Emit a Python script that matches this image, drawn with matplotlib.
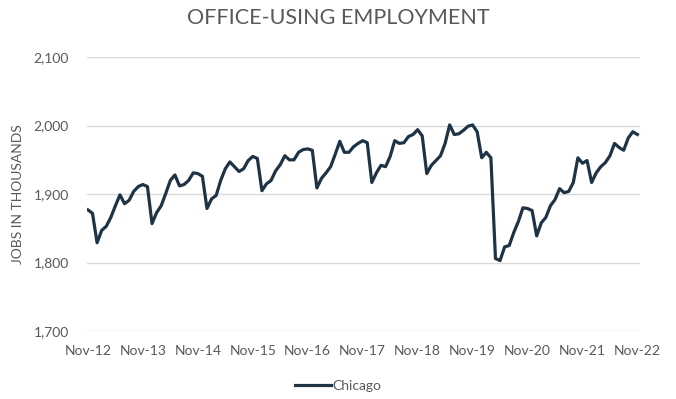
import numpy as np
import matplotlib.pyplot as plt
from matplotlib.ticker import FuncFormatter

plt.rcParams["font.family"] = ["Lato", "DejaVu Sans"]

# Chicago office-using employment, thousands of jobs, monthly Nov-12 .. Nov-22
jobs = [
    1877, 1872,
    1829, 1847, 1853, 1866, 1883, 1899, 1886, 1891, 1904, 1911, 1914, 1911,
    1857, 1873, 1883, 1901, 1920, 1928, 1912, 1914, 1920, 1931, 1930, 1926,
    1879, 1893, 1898, 1920, 1937, 1947, 1940, 1933, 1937, 1949, 1955, 1952,
    1905, 1915, 1920, 1934, 1943, 1956, 1950, 1950, 1961, 1965, 1966, 1964,
    1909, 1923, 1931, 1940, 1958, 1977, 1961, 1961, 1969, 1974, 1978, 1975,
    1917, 1931, 1942, 1940, 1955, 1978, 1974, 1975, 1984, 1987, 1994, 1985,
    1930, 1942, 1949, 1956, 1974, 2001, 1987, 1988, 1993, 1999, 2001, 1991,
    1953, 1961, 1953, 1806, 1803, 1823, 1825, 1844, 1860, 1880, 1879, 1876,
    1839, 1858, 1866, 1883, 1892, 1908, 1902, 1904, 1917, 1953, 1945, 1949,
    1917, 1931, 1940, 1946, 1956, 1974, 1968, 1964, 1982, 1991, 1987,
]
tick_labels = ["Nov-12", "Nov-13", "Nov-14", "Nov-15", "Nov-16", "Nov-17",
               "Nov-18", "Nov-19", "Nov-20", "Nov-21", "Nov-22"]

grey = "#595959"
fig = plt.figure(figsize=(6.76, 3.99), dpi=100)
ax = fig.add_axes([0.1287, 0.170, 0.947 - 0.1287, 0.857 - 0.170])

x = np.arange(len(jobs))
ax.plot(x, jobs, color="#1f3346", lw=2.3, solid_joinstyle="round", label="Chicago")

ax.set_xlim(-0.2, 120.6)
ax.set_ylim(1700, 2100)
ax.set_yticks([1700, 1800, 1900, 2000, 2100])
ax.yaxis.set_major_formatter(FuncFormatter(lambda v, _: f"{v:,.0f}"))
ax.set_xticks(np.arange(0, len(jobs), 12))
ax.set_xticklabels(tick_labels)
ax.grid(axis="y", color="#d9d9d9", lw=1)
ax.set_axisbelow(True)
for s in ax.spines.values():
    s.set_visible(False)
ax.tick_params(length=0, colors=grey, labelsize=10)
ax.tick_params(axis="y", pad=13)
ax.tick_params(axis="x", pad=10)

ax.set_ylabel("JOBS IN THOUSANDS", color=grey, fontsize=10, labelpad=7)
fig.text(0.5, 0.955, "OFFICE-USING EMPLOYMENT", ha="center", va="center",
         color=grey, fontsize=15.5)
fig.legend(loc="center", bbox_to_anchor=(0.5, 0.032), frameon=False,
           fontsize=10, handlelength=2.6, handletextpad=0.1,
           labelcolor=grey)

fig.savefig("out.png", dpi=100)
